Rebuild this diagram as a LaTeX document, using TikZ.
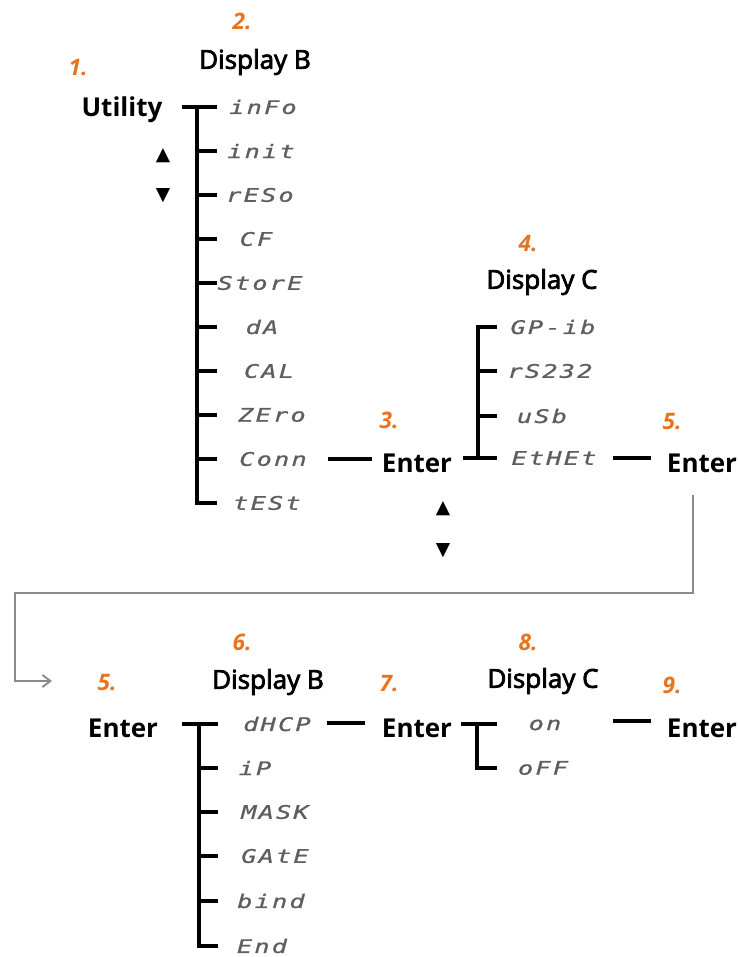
\documentclass[tikz,border=0pt]{standalone}
\usepackage{fontspec}
\setmainfont{Open Sans}
\newfontfamily\lcdfont[LetterSpace=12,FakeStretch=1.35,FakeBold=1]{DejaVu Sans Mono}
\newfontfamily\dispfont[FakeBold=3]{Open Sans}
\newfontfamily\symfont{DejaVu Sans}
\usepackage{tikz}
\usetikzlibrary{arrows.meta}

\definecolor{stepnum}{HTML}{E8731C}
\definecolor{lcdgray}{HTML}{5E5E5E}
\definecolor{flowgray}{HTML}{8A8A8A}

\begin{document}
\begin{tikzpicture}[x=0.75pt, y=-0.75pt]

	\tikzset{
		num/.style={text=stepnum, font=\bfseries\itshape\fontsize{17}{18}\selectfont},
		disp/.style={font=\dispfont\fontsize{19.5}{21}\selectfont},
		key/.style={font=\bfseries\fontsize{19.5}{21}\selectfont},
		lcd/.style={text=lcdgray, font=\lcdfont\itshape\fontsize{14}{16}\selectfont},
		symb/.style={font=\symfont\fontsize{14}{15}\selectfont},
		tree/.style={line width=2.4pt, black},
		flow/.style={line width=1.4pt, flowgray}
	}

	\useasboundingbox (0,0) rectangle (739,957);

	% --- PARTE ALTA: Utility -> Display B ---
	\node[num] (n1) at (78,68) {1.};
	\node[num] (n2) at (242,21) {2.};
	\node[disp] (dispB1) at (255,62) {Display B};
	\node[key] (util) at (122,110) {Utility};
	\node[symb] (up1) at (163,156) {▲};
	\node[symb] (dn1) at (163,196) {▼};

	\coordinate (rootB1) at (197,107);
	\coordinate (utilR) at (182,107);
	\foreach \lbl/\xx [count=\i] in {inFo/263, init/261, rESo/260, CF/256, StorE/260,
		dA/262, CAL/269, ZEro/272, Conn/273, tESt/267} {
		\node[lcd] (b\i) at (\xx, 63+44*\i) {\lbl};
		\coordinate (tb\i) at (217, 63+44*\i);
	}
	\draw[tree] (utilR) -- (tb1);
	\draw[tree] (rootB1) -- (rootB1 |- tb10) -- (tb10);
	\foreach \i in {2,...,9}
		\draw[tree] (rootB1 |- tb\i) -- (tb\i);

	% --- Conn -> Enter -> Display C ---
	\coordinate (connR) at (328,459);
	\coordinate (enterL) at (372,459);
	\draw[tree] (connR) -- (enterL);

	\node[num] (n3) at (389,420) {3.};
	\node[key] (enter3) at (417,463) {Enter};
	\node[symb] (up2) at (443,509) {▲};
	\node[symb] (dn2) at (443,551) {▼};

	\node[num] (n4) at (528,244) {4.};
	\node[disp] (dispC1) at (542,282) {Display C};

	\coordinate (rootC1) at (478,458);
	\coordinate (enter3R) at (463,458);
	\foreach \lbl/\xx/\yy [count=\i] in {GP-ib/553/327, rS232/550/371, uSb/542/416, EtHEt/554/458} {
		\node[lcd] (c\i) at (\xx,\yy) {\lbl};
		\coordinate (tc\i) at (497,\yy);
	}
	\draw[tree] (enter3R) -- (tc4);
	\draw[tree] (rootC1) -- (rootC1 |- tc1) -- (tc1);
	\foreach \i in {2,3}
		\draw[tree] (rootC1 |- tc\i) -- (tc\i);

	\coordinate (ethR) at (613,458);
	\coordinate (enter5L) at (651,458);
	\draw[tree] (ethR) -- (enter5L);
	\node[num] (n5) at (672,422) {5.};
	\node[key] (enter5) at (702,463) {Enter};

	% --- freccia di ritorno ---
	\coordinate (flowA) at (693,495);
	\coordinate (flowB) at (52,681);
	\draw[flow, -{Straight Barb[length=6pt, width=9pt]}] (flowA) -- (693,593) -- (15,593) -- (15,681) -- (flowB);

	% --- PARTE BASSA: Enter -> Display B ---
	\node[num] (n5b) at (107,683) {5.};
	\node[key] (enter5b) at (123,728) {Enter};
	\node[num] (n6) at (242,642) {6.};
	\node[disp] (dispB2) at (268,682) {Display B};

	\coordinate (rootB2) at (199,724);
	\coordinate (enter5bR) at (182,724);
	\foreach \lbl/\xx/\yy [count=\i] in {dHCP/277/724, iP/255/768, MASK/275/812,
		GAtE/275/856, bind/271/901, End/262/946} {
		\node[lcd] (d\i) at (\xx,\yy) {\lbl};
		\coordinate (td\i) at (218,\yy);
	}
	\draw[tree] (enter5bR) -- (td1);
	\draw[tree] (rootB2) -- (rootB2 |- td6) -- (td6);
	\foreach \i in {2,...,5}
		\draw[tree] (rootB2 |- td\i) -- (td\i);

	% --- dHCP -> Enter -> Display C ---
	\coordinate (dhcpR) at (327,723);
	\coordinate (enter7L) at (365,723);
	\draw[tree] (dhcpR) -- (enter7L);
	\node[num] (n7) at (389,684) {7.};
	\node[key] (enter7) at (417,728) {Enter};

	\node[num] (n8) at (528,642) {8.};
	\node[disp] (dispC2) at (543,681) {Display C};

	\coordinate (rootC2) at (477,724);
	\coordinate (enter7R) at (461,724);
	\node[lcd] (on) at (545,725) {on};
	\node[lcd] (off) at (543,768) {oFF};
	\coordinate (ton) at (497,724);
	\coordinate (toff) at (497,768);
	\draw[tree] (enter7R) -- (ton);
	\draw[tree] (rootC2) -- (rootC2 |- toff) -- (toff);

	\coordinate (onR) at (613,721);
	\coordinate (enter9L) at (651,721);
	\draw[tree] (onR) -- (enter9L);
	\node[num] (n9) at (672,685) {9.};
	\node[key] (enter9) at (702,728) {Enter};

\end{tikzpicture}
\end{document}
